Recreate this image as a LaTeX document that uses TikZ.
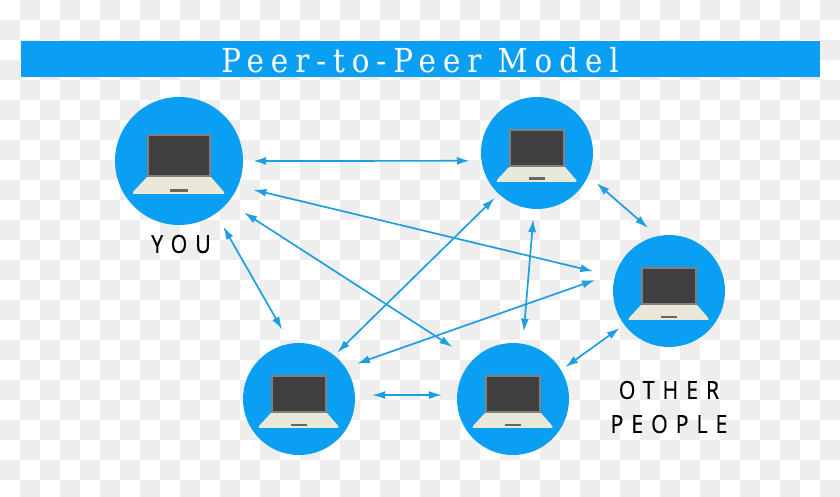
\documentclass[tikz,border=0pt]{standalone}
\usepackage{fontspec}
\usetikzlibrary{arrows.meta}
\newfontfamily\titlefont[LetterSpace=21,FakeStretch=0.89]{DejaVu Serif}
\newfontfamily\labelfont[LetterSpace=32,FakeStretch=0.85,FakeBold=0.4]{Open Sans}
\definecolor{peerblue}{HTML}{0A9FF2}
\definecolor{linkblue}{HTML}{1E9FE0}
\definecolor{screengrey}{HTML}{404040}
\definecolor{framegrey}{HTML}{808080}
\definecolor{basecream}{HTML}{EAE8D8}
\definecolor{checkgrey}{HTML}{EEEEEE}
\tikzset{
  peer/.style={circle, fill=peerblue, inner sep=0pt, minimum size=#1},
  link/.style={draw=linkblue, line width=1.7pt, {Latex[length=13pt,width=8pt]}-{Latex[length=13pt,width=8pt]}},
  caption/.style={text=black, align=center, font=\labelfont\fontsize{25}{34}\selectfont},
  laptop/.pic={
    \fill[basecream] (-32,16) -- (32,16) -- (45,31) -- (45,33) -- (-46,33) -- (-46,31) -- cycle;
    \fill[framegrey] (-32,-27) rectangle (32,16);
    \fill[screengrey] (-30,-25) rectangle (30,14);
    \fill[framegrey!80!black] (-9,28) rectangle (9,31);
  }
}
\begin{document}
\begin{tikzpicture}[x=1pt, y=-1pt]
\useasboundingbox (0,0) rectangle (840,497);
\fill[white] (0,0) rectangle (840,497);
% faint background squares
\foreach \col in {0,...,41}
  \foreach \row in {0,...,24} {
    \pgfmathparse{int(mod(\col+\row,2))}
    \ifnum\pgfmathresult=1
      \fill[checkgrey] (\col*20,\row*20) rectangle +(20,20);
    \fi
  }

\node[fill=peerblue, minimum width=799pt, minimum height=36pt, inner sep=0pt] (banner) at (420.5,59) {};
\node[text=white, font=\titlefont\fontsize{33}{33}\selectfont] (title) at (420,60) {Peer-to-Peer Model};

\node[peer=128pt] (you) at (179,161) {};
\node[peer=112pt] (top) at (537,153) {};
\node[peer=112pt] (other) at (669,291) {};
\node[peer=112pt] (left) at (299,399) {};
\node[peer=112pt] (right) at (513,399) {};

\pic at (you) {laptop};
\pic[scale=0.875] at (top) {laptop};
\pic[scale=0.875] at (other) {laptop};
\pic[scale=0.875] at (left) {laptop};
\pic[scale=0.875] at (right) {laptop};

\node[caption] (youtext) at (181,244) {YOU};
\node[caption] (othertext) at (669,407) {OTHER\\PEOPLE};

\draw[link, shorten <=10pt, shorten >=11.6pt] (you.0) -- (top.188);
\draw[link, shorten <=15.7pt, shorten >=22pt] (you.-23) -- (other.165);
\draw[link, shorten <=19pt, shorten >=24pt] (you.-40) -- (right.136);
\draw[link, shorten <=15pt, shorten >=16pt] (you.-55) -- (left.99);
\draw[link, shorten <=11pt, shorten >=12.5pt] (top.-24) -- (other.102);
\draw[link, shorten <=5.6pt, shorten >=4pt] (top.-133) -- (left.51);
\draw[link, shorten <=10pt, shorten >=12pt] (top.-93) -- (right.80);
\draw[link, shorten <=22pt, shorten >=12pt] (other.161) -- (left.34);
\draw[link, shorten <=5.4pt, shorten >=5pt] (other.-143) -- (right.31);
\draw[link, shorten <=17pt, shorten >=15pt] (left.4) -- (right.176);

\end{tikzpicture}
\end{document}
